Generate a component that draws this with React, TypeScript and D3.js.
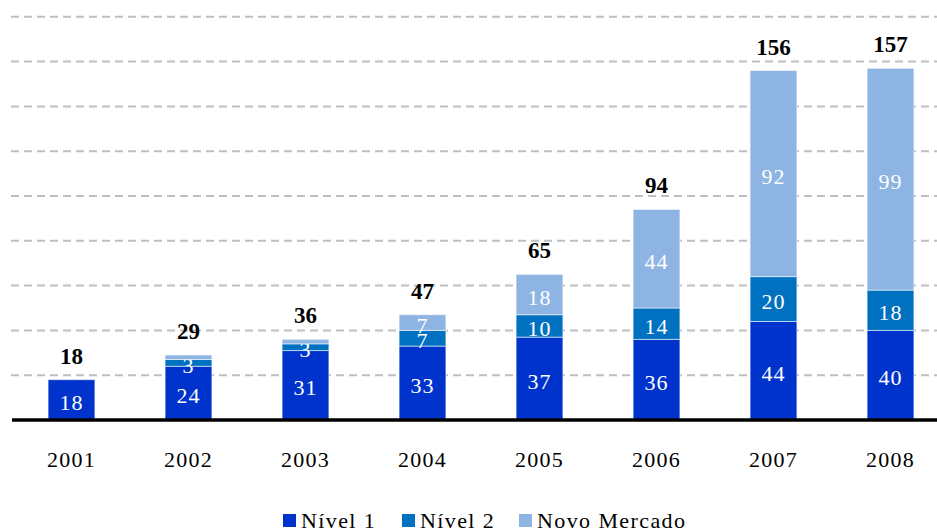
import React, { Component } from "react";
import * as d3 from "d3";

const years = ["2001", "2002", "2003", "2004", "2005", "2006", "2007", "2008"];
const nivel1 = [18, 24, 31, 33, 37, 36, 44, 40];
const nivel2 = [0, 3, 3, 7, 10, 14, 20, 18];
const novoMercado = [0, 2, 2, 7, 18, 44, 92, 99];
const totals = [18, 29, 36, 47, 65, 94, 156, 157];
const seriesNames = ["Nível 1", "Nível 2", "Novo Mercado"];
const colors = ["#0033CC", "#0070C0", "#8DB4E2"];
const gridTicks = [20, 40, 60, 80, 100, 120, 140, 160, 180];

const FONT = "Liberation Serif";

class App extends Component {
  chartRef: React.RefObject<HTMLDivElement | null>;

  constructor(props: any) {
    super(props);
    this.chartRef = React.createRef();
  }

  componentDidMount() {
    document.body.style.margin = "0";
    this.renderChart();
  }

  renderChart() {
    const width = 937;
    const height = 531;
    const baseline = 420;

    d3.select(this.chartRef.current).selectAll("*").remove();

    const svg = d3
      .select(this.chartRef.current)
      .append("svg")
      .attr("width", width)
      .attr("height", height)
      .attr("font-family", FONT)
      .style("display", "block");

    // X Scale
    const xScale = d3
      .scaleBand()
      .domain(years)
      .range([13, 949])
      .paddingInner(0.6)
      .paddingOuter(0.3);

    // Y Scale
    const yScale = d3.scaleLinear().domain([0, 180]).range([baseline, 16.8]);

    // Grid lines
    svg
      .append("g")
      .selectAll("line")
      .data(gridTicks)
      .join("line")
      .attr("x1", 11)
      .attr("x2", width)
      .attr("y1", (d) => yScale(d))
      .attr("y2", (d) => yScale(d))
      .attr("stroke", "#BFBFBF")
      .attr("stroke-width", 2)
      .attr("stroke-dasharray", "8,5");

    // Stack
    const rows = years.map((y, i) => ({
      year: y,
      n1: nivel1[i],
      n2: nivel2[i],
      nm: novoMercado[i],
    }));
    const keys = ["n1", "n2", "nm"];
    const stacked = d3.stack<any>().keys(keys)(rows);

    const layers = svg
      .append("g")
      .selectAll("g")
      .data(stacked)
      .join("g")
      .attr("fill", (d, i) => colors[i]);

    // Bars
    layers
      .selectAll("rect")
      .data((d) => d.filter((s) => s[1] - s[0] > 0))
      .join("rect")
      .attr("x", (d: any) => xScale(d.data.year) as number)
      .attr("y", (d) => yScale(d[1]))
      .attr("width", xScale.bandwidth())
      .attr("height", (d) => yScale(d[0]) - yScale(d[1]))
      .attr("stroke", "rgba(255,255,255,0.55)")
      .attr("stroke-width", 1);

    // Segment labels
    layers
      .selectAll("text")
      .data((d) => d.filter((s) => s[1] - s[0] > 2))
      .join("text")
      .attr("x", (d: any) => (xScale(d.data.year) as number) + xScale.bandwidth() / 2)
      .attr("y", (d) => (yScale(d[0]) + yScale(d[1])) / 2 + 10)
      .attr("text-anchor", "middle")
      .attr("fill", "#ffffff")
      .attr("font-size", 22)
      .attr("letter-spacing", 1)
      .text((d) => d[1] - d[0]);

    // Totals
    svg
      .append("g")
      .selectAll("text")
      .data(years)
      .join("text")
      .attr("x", (d) => (xScale(d) as number) + xScale.bandwidth() / 2)
      .attr("y", (d, i) => yScale(totals[i]) - 16)
      .attr("text-anchor", "middle")
      .attr("font-size", 23)
      .attr("font-weight", "bold")
      .text((d, i) => totals[i]);

    // X Axis line
    svg
      .append("line")
      .attr("x1", 12)
      .attr("x2", width)
      .attr("y1", baseline)
      .attr("y2", baseline)
      .attr("stroke", "#000000")
      .attr("stroke-width", 3.5);

    // X Axis labels
    svg
      .append("g")
      .selectAll("text")
      .data(years)
      .join("text")
      .attr("x", (d) => (xScale(d) as number) + xScale.bandwidth() / 2)
      .attr("y", 467)
      .attr("text-anchor", "middle")
      .attr("font-size", 22)
      .attr("letter-spacing", 1.2)
      .text((d) => d);

    // Legend
    const legendX = [283, 402, 519];
    const legend = svg
      .append("g")
      .selectAll("g")
      .data(seriesNames)
      .join("g")
      .attr("transform", (d, i) => `translate(${legendX[i]},514)`);

    legend
      .append("rect")
      .attr("width", 13)
      .attr("height", 13)
      .attr("fill", (d, i) => colors[i]);

    legend
      .append("text")
      .attr("x", 18)
      .attr("y", 13.5)
      .attr("font-size", 22)
      .attr("letter-spacing", 1.4)
      .text((d) => d);
  }

  render() {
    return <div ref={this.chartRef}></div>;
  }
}

export default App;
